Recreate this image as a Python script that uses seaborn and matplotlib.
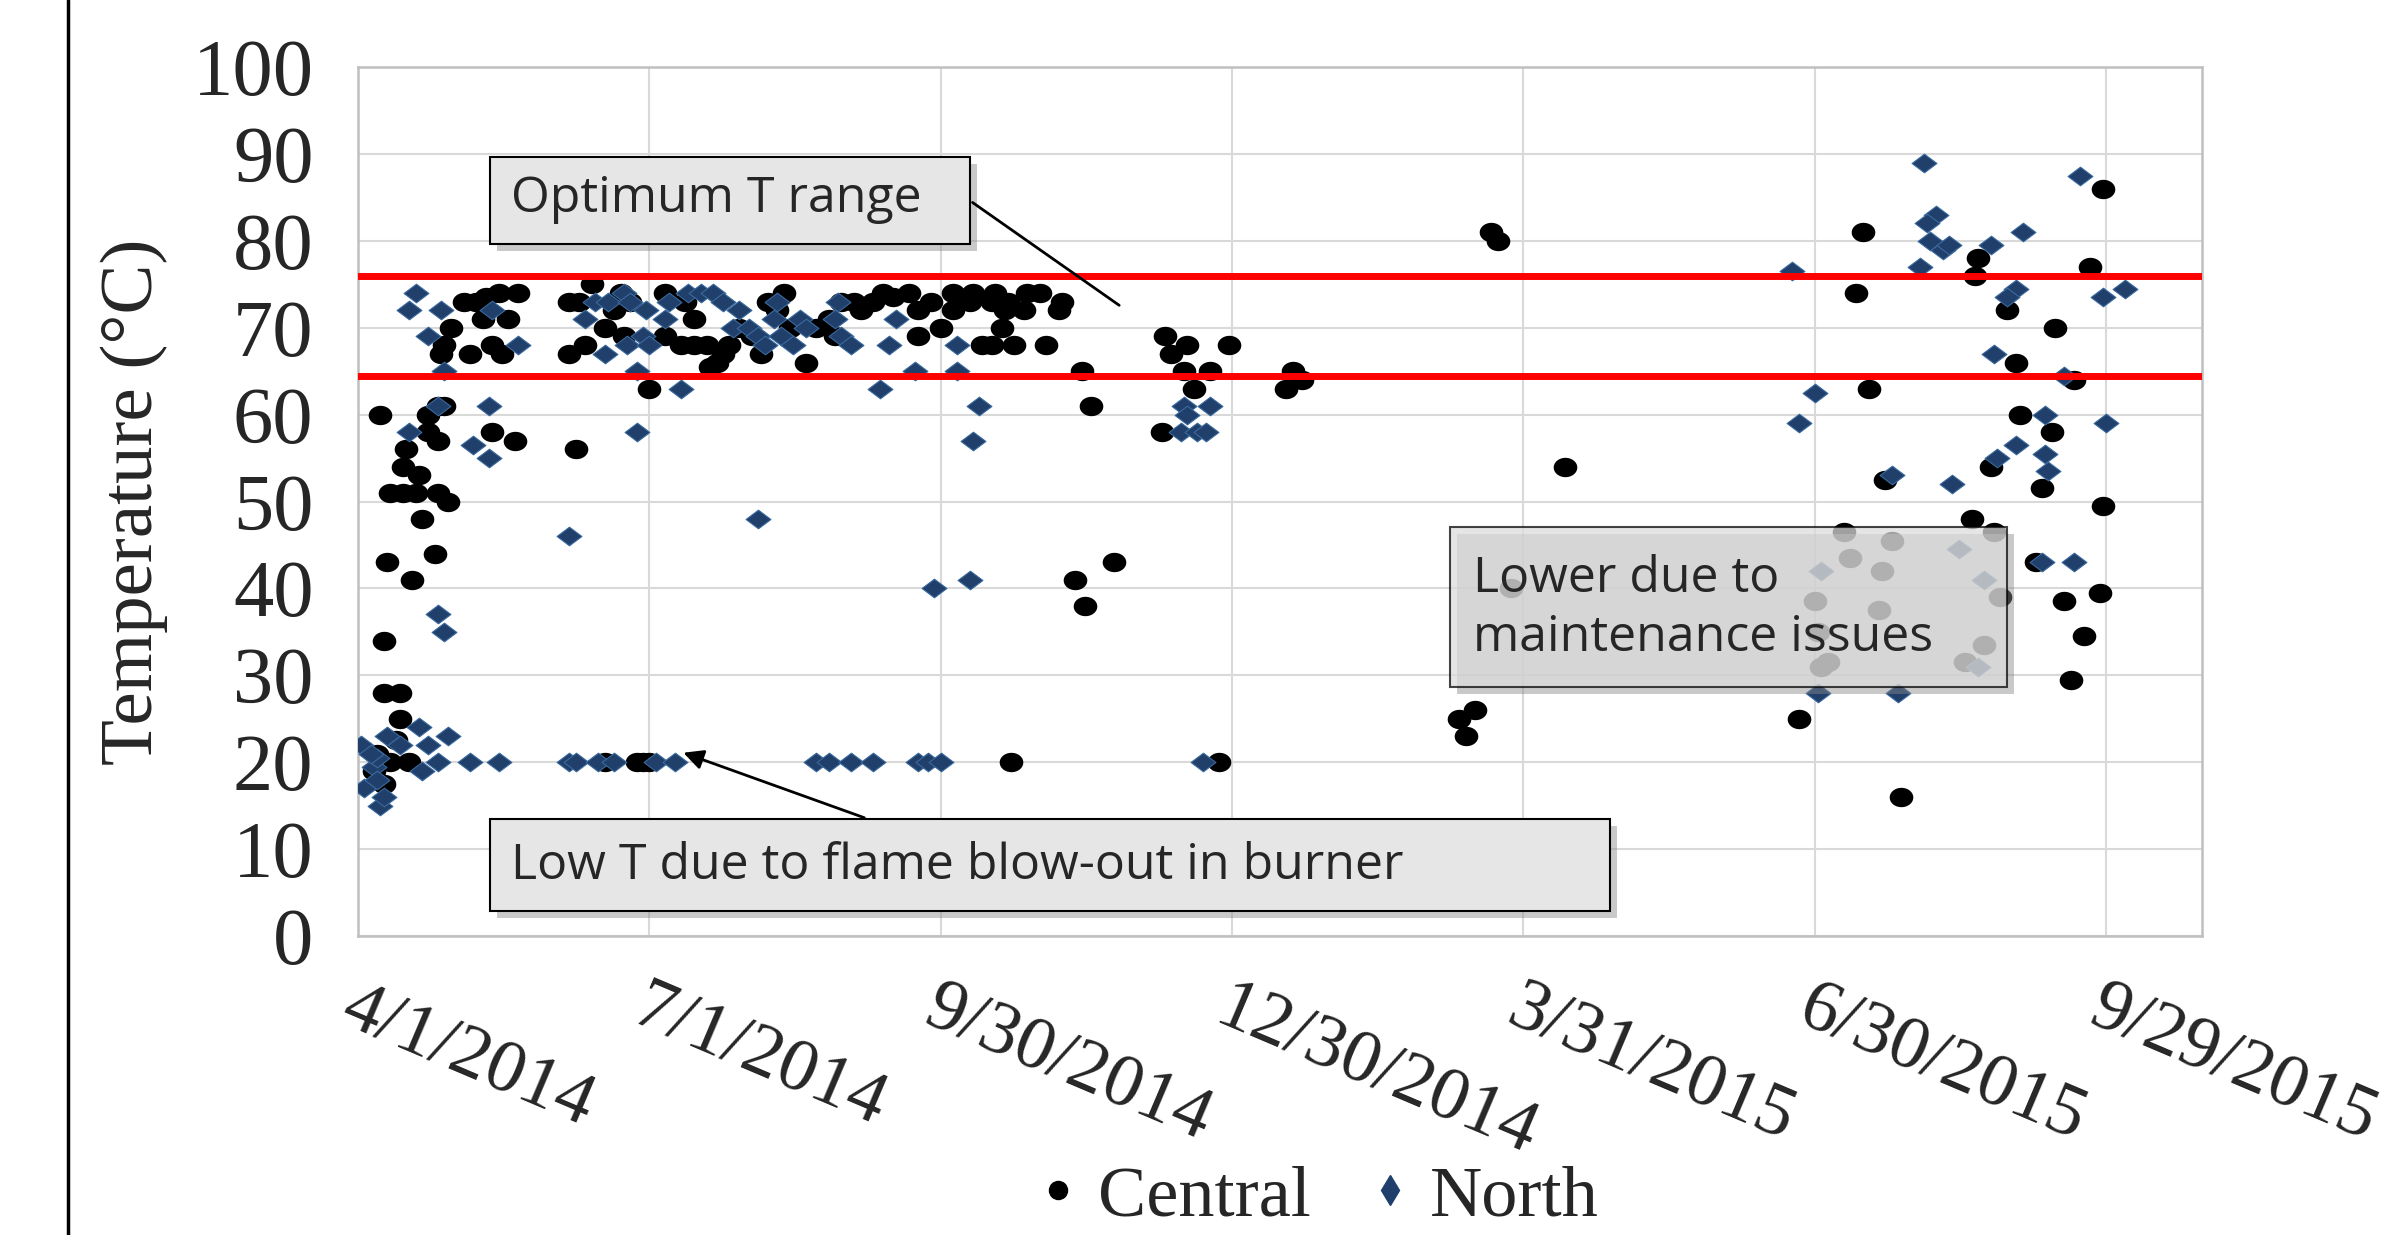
import numpy as np
import pandas as pd
import seaborn as sns
import matplotlib.pyplot as plt
import matplotlib.patheffects as pe
from matplotlib.lines import Line2D
from matplotlib.markers import MarkerStyle
from matplotlib.patches import Rectangle
from matplotlib.path import Path

sns.set_style("white")

START = pd.Timestamp("2014-04-01")

# days since 4/1/2014 and temperature (°C)
central_day = [7, 9, 17, 8, 8, 13, 13, 10, 14, 18, 14, 15, 19, 20, 25, 28, 24, 22, 25, 27,
               22, 25, 26, 27, 29, 33, 37, 39, 40, 44, 50, 47, 35, 42, 45, 42, 49,
               10, 16, 8, 6, 12, 5,
               66, 73, 69, 77, 66, 71, 82, 80, 83, 85, 91, 68,
               77, 87, 91, 89,
               96, 102, 105, 96, 101, 105, 109, 114, 110, 112, 116, 119, 123, 126, 128, 133, 131, 135,
               140, 143, 147, 149, 151, 155, 157, 161, 164, 167, 172, 175, 175, 179, 182, 186, 186,
               192, 191, 199, 198, 203, 202, 201, 209, 213, 208, 220, 219, 195, 198, 205, 215, 226,
               229, 224, 227, 236, 204,
               252, 254, 259, 272, 258, 266, 261, 251, 269,
               292, 295, 290, 354, 356, 377, 344, 349, 346, 360,
               470, 468, 472, 450, 482, 506, 505, 515, 530, 518, 536, 519, 529, 510, 526, 545, 541,
               545, 504, 524, 533, 544, 539, 535, 477,
               464, 466, 479, 476, 475, 455, 456, 457, 459, 511, 513, 508, 502]
central_temp = [60, 43, 41, 34, 28, 28, 25, 51, 51, 51, 54, 56, 53, 48, 51, 50, 44, 60, 61, 61,
                58, 57, 67, 68, 70, 73, 73, 71, 73.5, 74, 74, 71, 67, 68, 67, 58, 57,
                20, 20, 17.5, 21, 22.5, 19,
                73, 75, 73, 70, 67, 68, 74, 72, 69, 73, 63, 56,
                20, 20, 20, 20,
                74, 73, 71, 69, 68, 68, 68, 67, 65.5, 66, 68, 70, 69, 67, 73, 74, 72, 70,
                66, 70, 71, 69, 73, 73, 72, 73, 74, 73.5, 74, 72, 69, 73, 70, 74, 72,
                74, 73, 74, 73, 73, 72, 70, 74, 74, 72, 73, 72, 68, 68, 68, 68, 65,
                61, 41, 38, 43, 20,
                69, 67, 68, 68, 65, 65, 63, 58, 20,
                65, 64, 63, 81, 80, 54, 25, 26, 23, 40,
                81, 74, 63, 25, 16, 78, 76, 72, 70, 66, 64, 60, 58, 54, 51.5, 86, 77,
                49.5, 48, 43, 38.5, 39.5, 34.5, 29.5, 52.5,
                46.5, 43.5, 45.5, 42, 37.5, 38.5, 35, 31, 31.5, 46.5, 39, 33.5, 31.5]

north_day = [18, 16, 26, 22, 27, 25, 16, 25, 27, 41, 36, 41, 42, 50, 19, 28,
             1, 2, 7, 8, 5, 9, 13, 6, 22, 20, 25, 4, 6,
             35, 44, 66, 68, 75, 80, 93,
             66, 71, 74, 78, 77, 83, 85, 84, 87, 90, 89, 91, 87,
             101, 97, 103, 107, 111, 114, 119, 96, 117, 122, 125, 127, 131, 130, 132, 136, 138, 140,
             150, 149, 151, 154, 163, 166, 168, 174, 187, 187, 125, 180,
             99, 143, 147, 154, 161, 175, 178, 182,
             194, 192, 191, 258, 259, 266, 257, 262, 265, 264,
             448, 455, 450, 456, 489, 493, 490, 491, 495, 497, 488, 510, 520, 518, 515, 511, 533,
             527, 527, 528, 518, 512, 479, 498, 526, 536, 481, 538, 545, 552, 546,
             457, 500, 508, 506]
north_temp = [74, 72, 72, 69, 65, 61, 58, 37, 35, 61, 56.5, 55, 72, 68, 24, 23,
              22, 17, 15, 16, 19.5, 23, 22, 20.5, 22, 19, 20, 21, 18,
              20, 20, 20, 20, 20, 20, 20,
              46, 71, 73, 73, 67, 74, 73, 68, 65, 72, 69, 68, 58,
              63, 73, 74, 74, 74, 73, 72, 71, 70, 70, 69, 68, 73, 71, 69, 68, 71, 70,
              73, 71, 69, 68, 63, 68, 71, 65, 68, 65, 48, 40,
              20, 20, 20, 20, 20, 20, 20, 20,
              61, 57, 41, 61, 60, 61, 58, 58, 58, 20,
              76.5, 62.5, 59, 28, 89, 83, 82, 80, 79, 79.5, 77, 79.5, 81, 74.5, 73.5, 67, 64.5,
              60, 55.5, 53.5, 56.5, 55, 53, 52, 43, 43, 28, 87.5, 73.5, 74.5, 59,
              42, 44.5, 41, 31]

optimum_low = 64.5
optimum_high = 76
tick_dates = ["2014-04-01", "2014-07-01", "2014-09-30", "2014-12-30",
              "2015-03-31", "2015-06-30", "2015-09-29"]
x_end = "2015-10-29"
y_ticks = list(range(0, 101, 10))

central = pd.DataFrame({"date": START + pd.to_timedelta(central_day, unit="D"), "temp": central_temp})
north = pd.DataFrame({"date": START + pd.to_timedelta(north_day, unit="D"), "temp": north_temp})

# slightly flattened marker shapes, like the stretched original
t = np.linspace(0, 2 * np.pi, 40)
dot = MarkerStyle(Path(np.column_stack([np.cos(t), 0.82 * np.sin(t)]), closed=True))
diamond = MarkerStyle(Path([(-1, 0), (0, 0.75), (1, 0), (0, -0.75), (-1, 0)], closed=True))

SERIF = "Liberation Serif"
SANS = "Open Sans"
NAVY = "#203F6B"

fig = plt.figure(figsize=(23.98, 12.35), dpi=100)
ax = fig.add_axes([0.1493, 0.2421, 0.769, 0.7036])

sns.scatterplot(data=central, x="date", y="temp", marker=dot, s=290, color="black",
                edgecolor="black", linewidth=0, ax=ax, zorder=3, legend=False)
sns.scatterplot(data=north, x="date", y="temp", marker=diamond, s=320, color=NAVY,
                edgecolor="#3A6A9E", linewidth=0.8, ax=ax, zorder=3, legend=False)

ax.axhline(optimum_high, color="#FF0000", lw=5, zorder=4)
ax.axhline(optimum_low, color="#FF0000", lw=5, zorder=4)

ticks = pd.to_datetime(tick_dates)
ax.set_xlim(START, pd.Timestamp(x_end))
ax.set_ylim(0, 100)
ax.set_xticks(ticks)
ax.set_xticklabels([f"{d.month}/{d.day}/{d.year}" for d in ticks], rotation=-23, ha="left",
                   va="top", rotation_mode="anchor", family=SERIF, fontsize=54)
ax.set_yticks(y_ticks)
ax.set_yticklabels([str(v) for v in y_ticks], family=SERIF, fontsize=58)
ax.tick_params(axis="x", length=0, pad=28)
ax.tick_params(axis="y", length=0, pad=32)
ax.grid(True, color="#d9d9d9", lw=1.5)
ax.set_axisbelow(True)
for sp in ax.spines.values():
    sp.set_color("#bfbfbf")
    sp.set_linewidth(1.8)
ax.set_xlabel("")
ax.set_ylabel("Temperature (°C)", family=SERIF, fontsize=54)
ax.yaxis.set_label_coords(-0.103, 0.5)

shadow = [pe.withSimplePatchShadow(offset=(5, -5), shadow_rgbFace="#888888", alpha=0.45)]

# annotation boxes
ax.add_patch(Rectangle((0.0716, 0.796), 0.2604, 0.101, transform=ax.transAxes, fc="#e6e6e6",
                       ec="black", lw=1.5, zorder=5, path_effects=shadow))
ax.text(0.083, 0.848, "Optimum T range", transform=ax.transAxes, family=SANS, fontsize=36,
        va="center", ha="left", zorder=6)
ax.annotate("", xy=(0.414, 0.724), xytext=(0.332, 0.846), xycoords="axes fraction",
            arrowprops=dict(arrowstyle="-", color="black", lw=2), zorder=6)

ax.add_patch(Rectangle((0.0716, 0.029), 0.6074, 0.106, transform=ax.transAxes, fc="#e6e6e6",
                       ec="black", lw=1.5, zorder=5, path_effects=shadow))
ax.text(0.083, 0.080, "Low T due to flame blow-out in burner", transform=ax.transAxes,
        family=SANS, fontsize=36, va="center", ha="left", zorder=6)
ax.annotate("", xy=(0.175, 0.212), xytext=(0.276, 0.135), xycoords="axes fraction",
            arrowprops=dict(arrowstyle="-|>", color="black", lw=2, mutation_scale=30), zorder=6)

ax.add_patch(Rectangle((0.592, 0.287), 0.302, 0.184, transform=ax.transAxes, fc="#dcdcdc",
                       alpha=0.73, ec="black", lw=1.5, zorder=5, path_effects=shadow))
ax.text(0.6045, 0.377, "Lower due to\nmaintenance issues", transform=ax.transAxes,
        family=SANS, fontsize=36, va="center", ha="left", linespacing=1.25, zorder=6)

handles = [Line2D([], [], ls="none", marker="o", markersize=13, color="black"),
           Line2D([], [], ls="none", marker="d", markersize=15, color=NAVY)]
fig.legend(handles, ["Central", "North"], loc="center", bbox_to_anchor=(0.548, 0.03), ncol=2,
           frameon=False, prop={"family": SERIF, "size": 52}, handletextpad=0.15,
           columnspacing=0.7, handlelength=0.8)

fig.add_artist(Line2D([0.0284, 0.0284], [0, 1], transform=fig.transFigure, color="black", lw=2.5))

fig.savefig("out.png", dpi=100, facecolor="white")
